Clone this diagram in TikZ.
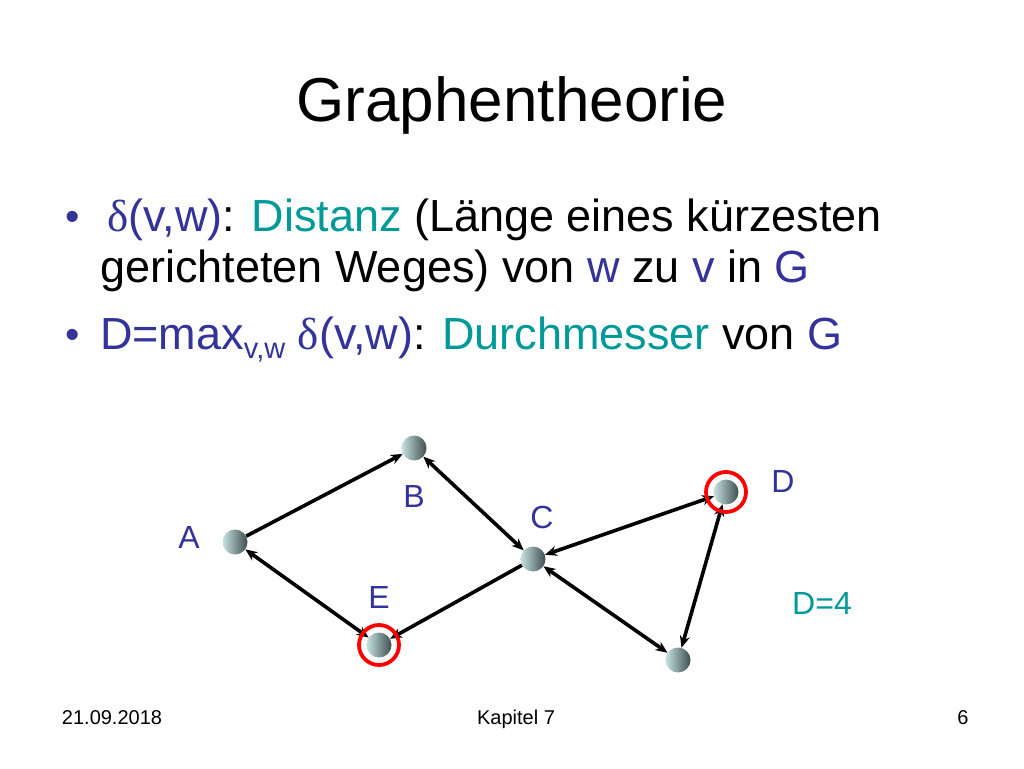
\documentclass[tikz,border=0pt]{standalone}
\usepackage{fontspec}
\setmainfont{Liberation Sans}
\newfontfamily\symbfont{Liberation Serif}
\usepackage{tikz}
\usetikzlibrary{positioning,arrows.meta}
\usepackage{xcolor}
\definecolor{blau}{RGB}{51,51,153}
\definecolor{tuerkis}{RGB}{0,153,153}
\definecolor{kugelhell}{RGB}{200,226,226}
\definecolor{kugeldunkel}{RGB}{62,78,80}
\newcommand{\dlt}{{\symbfont δ}}

\begin{document}
\begin{tikzpicture}[x=1pt, y=1pt, on grid,
  main/.style = {circle, minimum size=25pt, inner sep=0pt, left color=kugelhell, right color=kugeldunkel},
  lbl/.style = {text=blau, font=\fontsize{32}{36}\selectfont},
  zeile/.style = {font=\fontsize{45}{52}\selectfont, anchor=base west, inner sep=0pt},
  punkt/.style = {anchor=base, inner sep=0pt, text=blau, font=\fontsize{41}{46}\selectfont},
  foot/.style = {font=\fontsize{20}{24}\selectfont, anchor=base, inner sep=0pt},
  edge/.style = {line width=3.6pt, >={Stealth[length=12pt,width=10pt]}},
  ring/.style = {draw=red, line width=3.8pt}]
\useasboundingbox (0,0) rectangle (1024,-768);

\node (title) at (512,-121) [anchor=base, inner sep=0pt, font=\fontsize{62}{70}\selectfont] {Graphentheorie};

\node[punkt] (p1) at (73,-230) {•};
\node[punkt] (p2) at (73,-348) {•};
\node[zeile] (l1) at (107,-231) {\textcolor{blau}{\dlt(v,w)}: \textcolor{tuerkis}{Distanz} (Länge eines kürzesten};
\node[zeile] (l2) at (100,-282) {gerichteten Weges) von \textcolor{blau}{w} zu \textcolor{blau}{v} in \textcolor{blau}{G}};
\node[zeile] (l3) at (100,-349) {\textcolor{blau}{D=max\raisebox{-9pt}{\fontsize{29}{32}\selectfont v,w} \dlt(v,w)}: \textcolor{tuerkis}{Durchmesser} von \textcolor{blau}{G}};

\node[main] (A) at (235,-542) {};
\node[main] (B) [above right=94pt and 179pt of A] {};
\node[main] (C) [below right=111pt and 119pt of B] {};
\node[main] (D) [above right=67pt and 193pt of C] {};
\node[main] (F) [below right=101pt and 145pt of C] {};
\node[main] (E) [below right=103pt and 144pt of A] {};

\node[lbl] (a) [above left=5pt and 46pt of A] {A};
\node[lbl] (b) [below=48pt of B] {B};
\node[lbl] (c) [above right=42pt and 9pt of C] {C};
\node[lbl] (d) [above right=11pt and 57pt of D] {D};
\node[lbl] (e) [above=48pt of E] {E};
\node[lbl, text=tuerkis] (dia) [below right=111pt and 96pt of D] {D=4};

\draw[edge, ->] (A) -- (B);
\draw[edge, <->] (B) -- (C);
\draw[edge, <->] (C) -- (D);
\draw[edge, <->] (C) -- (F);
\draw[edge, <->] (D) -- (F);
\draw[edge, ->] (C) -- (E);
\draw[edge, <->] (E) -- (A);

\draw[ring] (D) circle (20pt);
\draw[ring] (E) circle (20pt);

\node[foot] (datum) at (112,-724) {21.09.2018};
\node[foot] (kapitel) at (516,-724) {Kapitel 7};
\node[foot] (seite) at (963,-724) {6};
\end{tikzpicture}
\end{document}
